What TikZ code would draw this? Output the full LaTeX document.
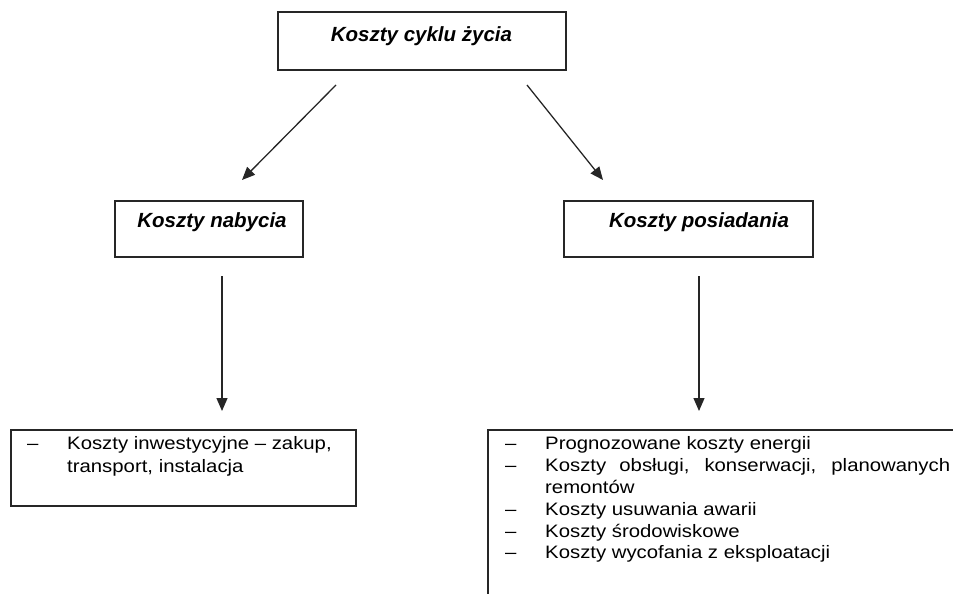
\documentclass[tikz,border=0pt]{standalone}
\usepackage{fontspec}
\setmainfont{Liberation Sans}
\newfontfamily\bodyfont[FakeStretch=1.13]{Liberation Sans}
\usetikzlibrary{arrows.meta}
\begin{document}
\begin{tikzpicture}[x=1pt,y=-1pt,
  box/.style={draw=black!85,line width=1.3pt,inner sep=0pt},
  title/.style={font=\fontsize{20.5}{24}\selectfont\bfseries\itshape,inner sep=0pt,anchor=base},
  item/.style={font=\bodyfont\fontsize{18}{22}\selectfont,inner sep=0pt,anchor=base west},
  arr/.style={-{Triangle[length=13pt,width=11pt]},line width=1.3pt,draw=black!85}
]
\useasboundingbox (0,0) rectangle (953,594);

% boxes
\node[box,minimum width=288pt,minimum height=58pt] (top) at (422,41) {};
\node[box,minimum width=188pt,minimum height=56pt] (nab) at (209,229) {};
\node[box,minimum width=249pt,minimum height=56pt] (pos) at (688.5,229) {};
\node[box,minimum width=345pt,minimum height=76pt] (inw) at (183.5,468) {};
\coordinate (brTR) at (953,430);
\coordinate (brTL) at (488,430);
\coordinate (brBL) at (488,594);
\draw[draw=black!85,line width=1.3pt] (brTR) -- (brTL) -- (brBL);

% titles
\node[title] (ttop) at (421.5,42) {Koszty cyklu życia};
\node[title] (tnab) at (212,227) {Koszty nabycia};
\node[title] (tpos) at (699,227) {Koszty posiadania};

% left list
\node[item] (d1) at (27,449) {–};
\node[item] (l1) at (67,449) {Koszty inwestycyjne – zakup,};
\node[item] (l2) at (67,472) {transport, instalacja};

% right list
\node[item] (e1) at (505,449) {–};
\node[item] (r1) at (545,449) {Prognozowane koszty energii};
\node[item] (e2) at (505,471) {–};
\node[item] (r2) at (545,471) {\makebox[405pt][s]{Koszty obsługi, konserwacji, planowanych}};
\node[item] (r3) at (545,493) {remontów};
\node[item] (e4) at (505,515) {–};
\node[item] (r4) at (545,515) {Koszty usuwania awarii};
\node[item] (e5) at (505,537) {–};
\node[item] (r5) at (545,537) {Koszty środowiskowe};
\node[item] (e6) at (505,558) {–};
\node[item] (r6) at (545,558) {Koszty wycofania z eksploatacji};

% arrows
\coordinate (a1s) at (336,85);
\coordinate (a1e) at (242,180);
\coordinate (a2s) at (527,85);
\coordinate (a2e) at (603,180);
\coordinate (a3s) at (222,276);
\coordinate (a3e) at (222,411);
\coordinate (a4s) at (699,276);
\coordinate (a4e) at (699,411);
\draw[arr] (a1s) -- (a1e);
\draw[arr] (a2s) -- (a2e);
\draw[arr] (a3s) -- (a3e);
\draw[arr] (a4s) -- (a4e);
\end{tikzpicture}
\end{document}
